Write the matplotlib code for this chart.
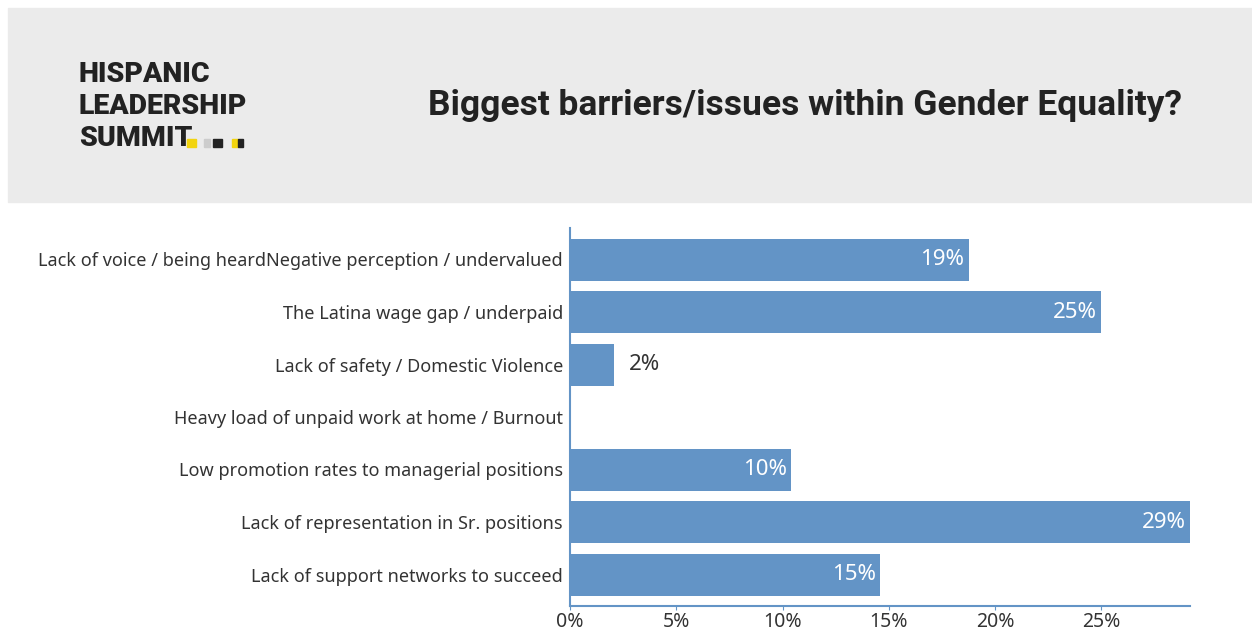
import numpy as np
import matplotlib.pyplot as plt
from matplotlib.patches import Rectangle

# data (share of responses, %)
categories = ["Lack of voice / being heardNegative perception / undervalued",
              "The Latina wage gap / underpaid",
              "Lack of safety / Domestic Violence",
              "Heavy load of unpaid work at home / Burnout",
              "Low promotion rates to managerial positions",
              "Lack of representation in Sr. positions",
              "Lack of support networks to succeed"]
values = [18.75, 25.0, 2.08, 0.0, 10.42, 29.17, 14.58]
ticks = [0, 5, 10, 15, 20, 25]
tick_labels = ["0%", "5%", "10%", "15%", "20%", "25%"]
title = "Biggest barriers/issues within Gender Equality?"
logo_lines = ["HISPANIC", "LEADERSHIP", "SUMMIT"]

W, H = 1252, 632
fig = plt.figure(figsize=(W / 100, H / 100), dpi=100)
fig.patch.set_facecolor("white")

# header band
fig.patches.append(Rectangle((8 / W, 1 - 202 / H), (W - 8) / W, 194 / H,
                             transform=fig.transFigure, color="#ebebeb", zorder=0))

fig.text(1182 / W, 1 - 106 / H, title, ha="right", va="center",
         fontsize=25.5, fontweight="bold", family="Roboto", color="#222222")

# logo text
for i, line in enumerate(logo_lines):
    fig.text(79 / W, 1 - (75 + 31.5 * i) / H, line, ha="left", va="center",
             fontsize=20.5, fontweight="heavy", family="Roboto",
             color="#222222")
for x0, w, c in [(187, 9, "#f2d40f"), (204, 6, "#cccccc"), (213, 9, "#222222"),
                 (232, 6, "#f2d40f"), (238, 5, "#222222")]:
    fig.patches.append(Rectangle((x0 / W, 1 - 147 / H), w / W, 8 / H,
                                 transform=fig.transFigure, color=c, zorder=2))

# bar chart
ax = fig.add_axes([570 / W, 1 - 606 / H, (1190 - 570) / W, (606 - 228) / H])
y = np.arange(len(categories))
bar_color = "#6394c6"
ax.barh(y, values, height=0.8, color=bar_color)
ax.set_ylim(6.6, -0.6)
ax.set_xlim(0, 29.17)
ax.set_yticks(y)
ax.set_yticklabels(categories, fontsize=13, color="#333333", family="Noto Sans")
ax.set_xticks(ticks)
ax.set_xticklabels(tick_labels, fontsize=14, color="#333333", family="Noto Sans")
ax.tick_params(axis="y", length=0, pad=5)
ax.tick_params(axis="x", length=3, color=bar_color, pad=1)
for s in ["top", "right"]:
    ax.spines[s].set_visible(False)
for s in ["left", "bottom"]:
    ax.spines[s].set_color(bar_color)
    ax.spines[s].set_linewidth(1.5)

for yi, v in zip(y, values):
    if v == 0:
        continue
    lab = "%d%%" % round(v)
    if v > 5:
        ax.text(v - 0.2, yi, lab, ha="right", va="center", fontsize=16,
                color="white", family="Noto Sans")
    else:
        ax.text(v + 0.7, yi, lab, ha="left", va="center", fontsize=16,
                color="#333333", family="Noto Sans")

plt.savefig("out.png", dpi=100)
